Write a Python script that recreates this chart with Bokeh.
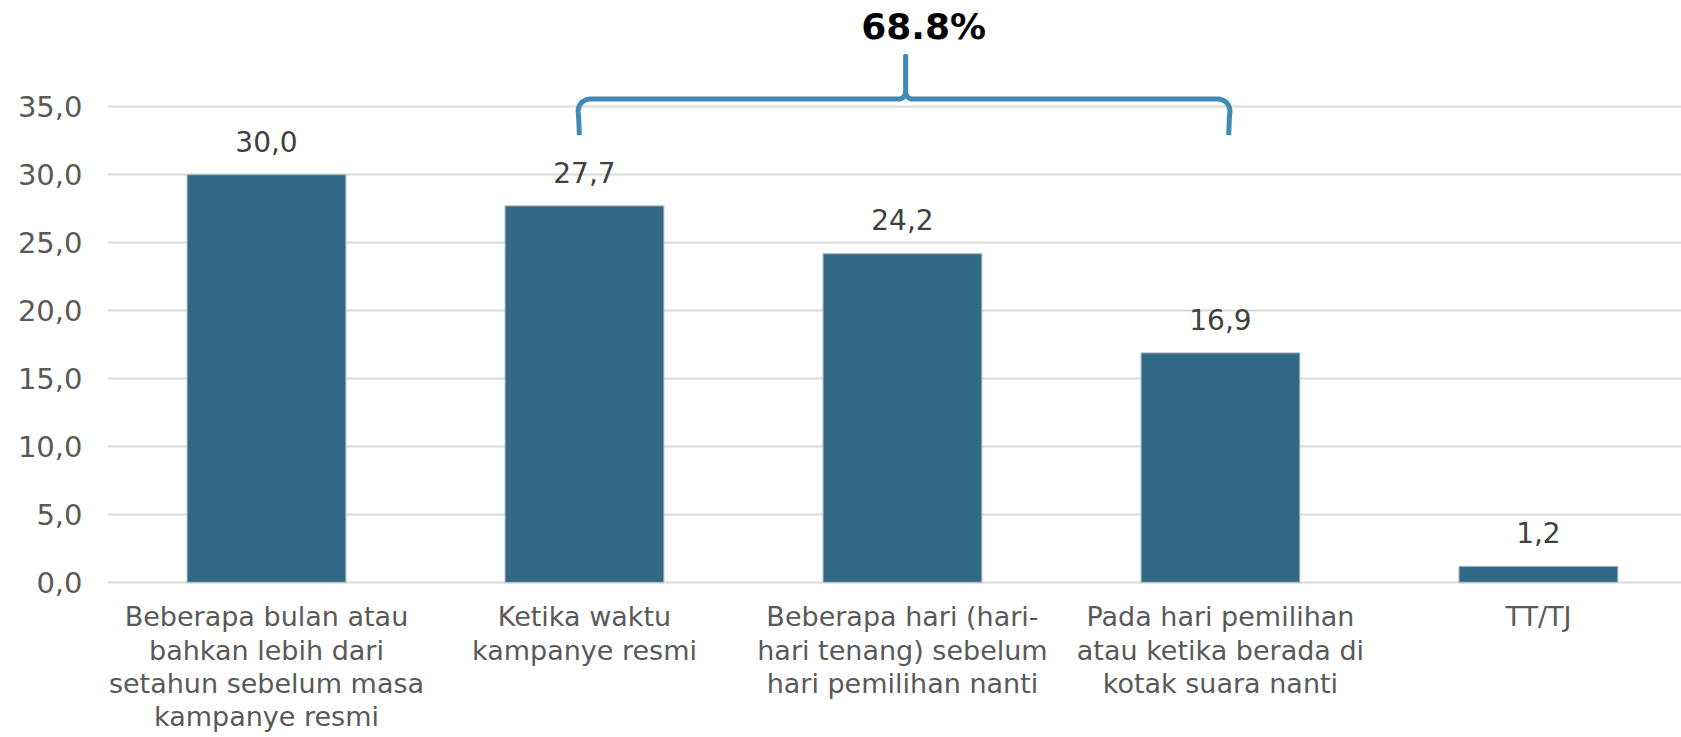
import numpy as np
from bokeh.plotting import figure
from bokeh.models import FixedTicker, ColumnDataSource
from bokeh.core.properties import value
from bokeh.embed import file_html
from bokeh.resources import INLINE

categories = [
    "Beberapa bulan atau\nbahkan lebih dari\nsetahun sebelum masa\nkampanye resmi",
    "Ketika waktu\nkampanye resmi",
    "Beberapa hari (hari-\nhari tenang) sebelum\nhari pemilihan nanti",
    "Pada hari pemilihan\natau ketika berada di\nkotak suara nanti",
    "TT/TJ",
]
values = [30.0, 27.7, 24.2, 16.9, 1.2]
y_ticks = [0, 5, 10, 15, 20, 25, 30, 35]
y_tick_labels = ["0,0", "5,0", "10,0", "15,0", "20,0", "25,0", "30,0", "35,0"]
bracket_group = [1, 2, 3]  # indices of categories summed by the brace

FONT = "DejaVu Sans"
BAR = "#316886"
BRACE = "#3F89B5"

x = list(range(len(categories)))
labels = [f"{v:.1f}".replace(".", ",") for v in values]
src = ColumnDataSource(dict(x=x, top=values, label=labels, cat=categories, zero=[0] * len(x)))

p = figure(width=1681, height=737, output_backend="svg", toolbar_location=None,
           x_range=(-0.5, 4.45), y_range=(-11.4, 42.8),
           min_border_left=107, min_border_right=0, min_border_top=0, min_border_bottom=0)
p.outline_line_color = None
p.background_fill_color = "white"

p.vbar(x="x", top="top", width=0.5, source=src, fill_color=BAR,
       line_color="#c8c8c8", line_alpha=0.7, line_width=1.5)
p.text(x="x", y="top", text="label", source=src, text_align="center",
       text_baseline="bottom", y_offset=-23, text_font=value(FONT),
       text_font_size="28px", text_color="#404040")

# category labels under the bars
p.text(x="x", y="zero", text="cat", source=src, text_align="center",
       text_baseline="top", y_offset=19, text_font=value(FONT),
       text_font_size="27px", text_color="#595959", text_line_height=1.07)

p.xaxis.visible = False

p.yaxis.ticker = FixedTicker(ticks=y_ticks)
p.yaxis.major_label_overrides = {t: l for t, l in zip(y_ticks, y_tick_labels)}
p.yaxis.major_label_text_font = FONT
p.yaxis.major_label_text_font_size = "29px"
p.yaxis.major_label_text_color = "#595959"
p.yaxis.major_label_standoff = 19
p.yaxis.axis_line_color = None
p.yaxis.major_tick_line_color = None
p.yaxis.minor_tick_line_color = None

p.xgrid.grid_line_color = None
p.ygrid.ticker = FixedTicker(ticks=y_ticks)
p.ygrid.grid_line_color = "#d9d9d9"
p.ygrid.grid_line_width = 2

# curly brace over the grouped bars
sx, sy = 318.0, 13.6  # px per data unit
x1, x3 = bracket_group[0] - 0.02, bracket_group[-1] + 0.03
xm = (bracket_group[0] + bracket_group[-1]) / 2 + 0.01
yb, yh, yt = 32.9, 35.55, 38.7
r, f = 12.0, 7.0
pts_x, pts_y = [x1 + 0.004], [yb]
pts_x += [x1 + 0.002]; pts_y += [yb + 1.2]
a = np.linspace(np.pi, np.pi / 2, 10)
pts_x += list(x1 + r / sx + r * np.cos(a) / sx); pts_y += list(yh - r / sy + r * np.sin(a) / sy)
a = np.linspace(-np.pi / 2, 0, 8)
pts_x += list(xm - f / sx + f * np.cos(a) / sx); pts_y += list(yh + f / sy + f * np.sin(a) / sy)
pts_x += [xm]; pts_y += [yt]
a = np.linspace(np.pi, 1.5 * np.pi, 8)
pts_x += list(xm + f / sx + f * np.cos(a) / sx); pts_y += list(yh + f / sy + f * np.sin(a) / sy)
a = np.linspace(np.pi / 2, 0, 10)
pts_x += list(x3 - r / sx + r * np.cos(a) / sx); pts_y += list(yh - r / sy + r * np.sin(a) / sy)
pts_x += [x3 - 0.002, x3 - 0.004]; pts_y += [yb + 1.2, yb]
p.line(pts_x, pts_y, line_color=BRACE, line_width=5, line_join="round")

total = sum(values[i] for i in bracket_group)
p.text(x=[xm], y=[yt], text=[f"{total:.1f}%"], text_align="center", text_baseline="bottom",
       x_offset=18, y_offset=-9, text_font=value(FONT), text_font_style="bold",
       text_font_size="36px", text_color="black")

open("out.html", "w").write(file_html(p, INLINE))
